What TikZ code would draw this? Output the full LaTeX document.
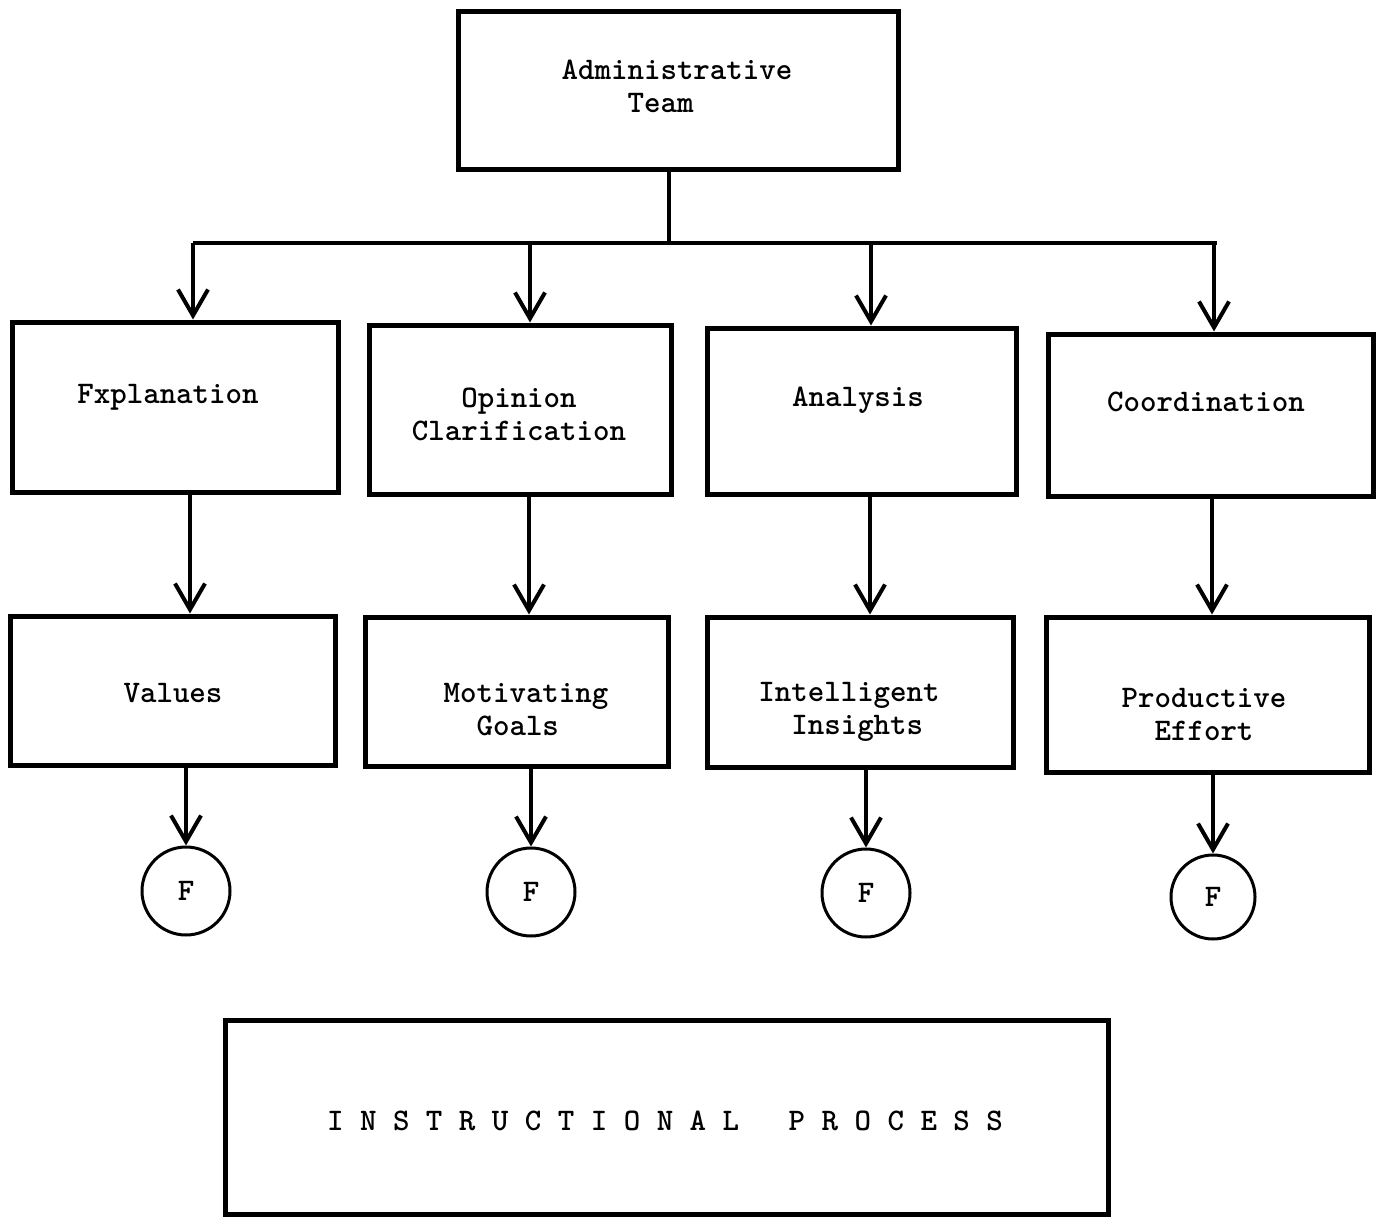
\documentclass[tikz,border=0pt]{standalone}
\usepackage{fontspec}
\usetikzlibrary{arrows.meta}
\tikzset{
  box/.style={draw, line width=5pt, rectangle, inner sep=0pt},
  txt/.style={font=\ttfamily\bfseries\fontsize{31.4}{33}\selectfont, align=left, inner sep=0pt},
  fcirc/.style={draw, line width=3pt, circle, inner sep=0pt, font=\ttfamily\bfseries\fontsize{31.4}{33}\selectfont},
  arr/.style={line width=4pt, -{Straight Barb[length=26pt,width=30pt]}},
  ln/.style={line width=4pt}
}
\begin{document}
\begin{tikzpicture}[x=1pt,y=-1pt]
\useasboundingbox (0,0) rectangle (1389,1217);
% top
\node[box, minimum width=440, minimum height=158] (admin) at (678,91) {};
\node[txt] (adminT) at (677,86) {Administrative\\\ \ \ \ Team};
% bus
\coordinate (busL) at (193,243);
\coordinate (busR) at (1217,243);
\coordinate (busM) at (669,243);
\draw[ln] ([xshift=-9]admin.south) -- (busM);
\draw[ln] (busL) -- (busR);
% row 1
\node[box, minimum width=326, minimum height=170] (expl) at (175,407) {};
\node[txt] (explT) at (168,397) {Fxplanation};
\node[box, minimum width=302, minimum height=169] (opin) at (520,409.5) {};
\node[txt] (opinT) at (519,414) {\ \ \ Opinion\\Clarification};
\node[box, minimum width=309, minimum height=166] (anal) at (861.5,411) {};
\node[txt] (analT) at (858,400) {Analysis};
\node[box, minimum width=325, minimum height=162] (coord) at (1210.5,415) {};
\node[txt] (coordT) at (1206,402) {Coordination};
% row 2
\node[box, minimum width=325, minimum height=149] (vals) at (172.5,690.5) {};
\node[txt] (valsT) at (173,693) {Values};
\node[box, minimum width=303, minimum height=149] (moti) at (516.5,691.5) {};
\node[txt] (motiT) at (526,710) {Motivating\\\ \ Goals};
\node[box, minimum width=306, minimum height=150] (intel) at (860,692) {};
\node[txt] (intelT) at (849,712) {Intelligent\\\ \ Insights};
\node[box, minimum width=323, minimum height=155] (prod) at (1207.5,694.5) {};
\node[txt] (prodT) at (1204,714) {Productive\\\ \ Effort};
% circles
\node[fcirc, minimum size=88] (f1) at (186,891) {F};
\node[fcirc, minimum size=88] (f2) at (531,892) {F};
\node[fcirc, minimum size=88] (f3) at (866,893) {F};
\node[fcirc, minimum size=84] (f4) at (1213,897) {F};
% bottom
\node[box, minimum width=883, minimum height=194] (instr) at (666.5,1117) {};
\node[txt] (instrT) at (665,1121) {I\ N\ S\ T\ R\ U\ C\ T\ I\ O\ N\ A\ L\ \ \ P\ R\ O\ C\ E\ S\ S};
% arrows bus -> row 1
\draw[arr] (busL) -- (193,0 |- expl.north);
\draw[arr] (530,0 |- busM) -- (530,0 |- opin.north);
\draw[arr] (871,0 |- busM) -- (871,0 |- anal.north);
\draw[arr] (busR -| 1214,0) -- (1214,0 |- coord.north);
% row 1 -> row 2
\draw[arr] (190,0 |- expl.south) -- (190,0 |- vals.north);
\draw[arr] (529,0 |- opin.south) -- (529,0 |- moti.north);
\draw[arr] (870,0 |- anal.south) -- (870,0 |- intel.north);
\draw[arr] (1212,0 |- coord.south) -- (1212,0 |- prod.north);
% row 2 -> circles
\draw[arr] (f1.north |- vals.south) -- (f1.north);
\draw[arr] (f2.north |- moti.south) -- (f2.north);
\draw[arr] (f3.north |- intel.south) -- (f3.north);
\draw[arr] (f4.north |- prod.south) -- (f4.north);
\end{tikzpicture}
\end{document}
